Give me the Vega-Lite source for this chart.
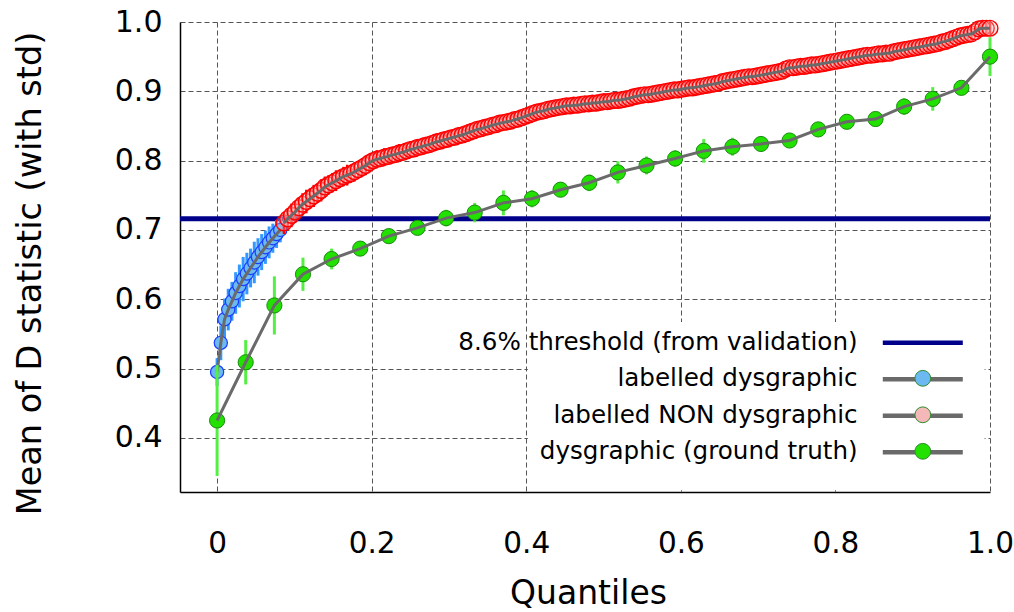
{
  "$schema": "https://vega.github.io/schema/vega-lite/v6.json",
  "width": 810,
  "height": 470,
  "autosize": {"type": "none"},
  "padding": {"left": 180, "top": 22, "right": 24, "bottom": 120},
  "background": "white",
  "config": {"view": {"stroke": null}, "font": "DejaVu Sans"},
  "datasets": {
    "blue": [
      {"q":0,"m":0.495,"e":0.02},{"q":0.0048,"m":0.537,"e":0.025},{"q":0.0096,"m":0.571,"e":0.03},{"q":0.0144,"m":0.585,"e":0.03},
      {"q":0.0192,"m":0.597,"e":0.028},{"q":0.024,"m":0.609,"e":0.03},{"q":0.0288,"m":0.619,"e":0.031},{"q":0.0337,"m":0.629,"e":0.032},
      {"q":0.0385,"m":0.637,"e":0.03},{"q":0.0433,"m":0.645,"e":0.028},{"q":0.0481,"m":0.653,"e":0.03},{"q":0.0529,"m":0.661,"e":0.027},
      {"q":0.0577,"m":0.668,"e":0.026},{"q":0.0625,"m":0.675,"e":0.024},{"q":0.0673,"m":0.682,"e":0.023},{"q":0.0721,"m":0.688,"e":0.021},
      {"q":0.0769,"m":0.694,"e":0.02},{"q":0.0817,"m":0.7,"e":0.018}
    ],
    "red": [
      {"q":0.0865,"m":0.71,"e":0.016},{"q":0.0913,"m":0.716,"e":0.015},{"q":0.0962,"m":0.721,"e":0.017},{"q":0.101,"m":0.726,"e":0.016},
      {"q":0.1058,"m":0.732,"e":0.015},{"q":0.1106,"m":0.737,"e":0.016},{"q":0.1154,"m":0.741,"e":0.017},{"q":0.1202,"m":0.745,"e":0.015},
      {"q":0.125,"m":0.749,"e":0.016},{"q":0.1298,"m":0.753,"e":0.014},{"q":0.1346,"m":0.757,"e":0.016},{"q":0.1394,"m":0.762,"e":0.015},
      {"q":0.1442,"m":0.765,"e":0.014},{"q":0.149,"m":0.768,"e":0.014},{"q":0.1538,"m":0.771,"e":0.015},{"q":0.1587,"m":0.774,"e":0.013},
      {"q":0.1635,"m":0.777,"e":0.014},{"q":0.1683,"m":0.779,"e":0.015},{"q":0.1731,"m":0.781,"e":0.013},{"q":0.1779,"m":0.784,"e":0.014},
      {"q":0.1827,"m":0.787,"e":0.012},{"q":0.1875,"m":0.79,"e":0.013},{"q":0.1923,"m":0.793,"e":0.014},{"q":0.1971,"m":0.797,"e":0.013},
      {"q":0.2019,"m":0.8,"e":0.012},{"q":0.2067,"m":0.802,"e":0.013},{"q":0.2115,"m":0.803,"e":0.012},{"q":0.2163,"m":0.805,"e":0.013},
      {"q":0.2212,"m":0.806,"e":0.012},{"q":0.226,"m":0.808,"e":0.011},{"q":0.2308,"m":0.809,"e":0.012},{"q":0.2356,"m":0.811,"e":0.013},
      {"q":0.2404,"m":0.812,"e":0.012},{"q":0.2452,"m":0.814,"e":0.011},{"q":0.25,"m":0.816,"e":0.012},{"q":0.2548,"m":0.817,"e":0.012},
      {"q":0.2596,"m":0.819,"e":0.011},{"q":0.2644,"m":0.82,"e":0.012},{"q":0.2692,"m":0.822,"e":0.011},{"q":0.274,"m":0.823,"e":0.012},
      {"q":0.2788,"m":0.825,"e":0.011},{"q":0.2837,"m":0.827,"e":0.012},{"q":0.2885,"m":0.828,"e":0.011},{"q":0.2933,"m":0.83,"e":0.011},
      {"q":0.2981,"m":0.831,"e":0.012},{"q":0.3029,"m":0.833,"e":0.011},{"q":0.3077,"m":0.834,"e":0.011},{"q":0.3125,"m":0.836,"e":0.012},
      {"q":0.3173,"m":0.837,"e":0.011},{"q":0.3221,"m":0.839,"e":0.011},{"q":0.3269,"m":0.841,"e":0.012},{"q":0.3317,"m":0.843,"e":0.011},
      {"q":0.3365,"m":0.845,"e":0.011},{"q":0.3413,"m":0.846,"e":0.012},{"q":0.3462,"m":0.848,"e":0.011},{"q":0.351,"m":0.849,"e":0.011},
      {"q":0.3558,"m":0.851,"e":0.01},{"q":0.3606,"m":0.852,"e":0.011},{"q":0.3654,"m":0.854,"e":0.011},{"q":0.3702,"m":0.855,"e":0.01},
      {"q":0.375,"m":0.856,"e":0.011},{"q":0.3798,"m":0.857,"e":0.011},{"q":0.3846,"m":0.859,"e":0.01},{"q":0.3894,"m":0.86,"e":0.011},
      {"q":0.3942,"m":0.862,"e":0.01},{"q":0.399,"m":0.864,"e":0.011},{"q":0.4038,"m":0.866,"e":0.011},{"q":0.4087,"m":0.868,"e":0.01},
      {"q":0.4135,"m":0.87,"e":0.011},{"q":0.4183,"m":0.871,"e":0.01},{"q":0.4231,"m":0.872,"e":0.01},{"q":0.4279,"m":0.874,"e":0.011},
      {"q":0.4327,"m":0.875,"e":0.01},{"q":0.4375,"m":0.876,"e":0.01},{"q":0.4423,"m":0.877,"e":0.011},{"q":0.4471,"m":0.878,"e":0.01},
      {"q":0.4519,"m":0.879,"e":0.01},{"q":0.4567,"m":0.879,"e":0.011},{"q":0.4615,"m":0.88,"e":0.01},{"q":0.4663,"m":0.88,"e":0.01},
      {"q":0.4712,"m":0.881,"e":0.01},{"q":0.476,"m":0.882,"e":0.011},{"q":0.4808,"m":0.882,"e":0.01},{"q":0.4856,"m":0.883,"e":0.01},
      {"q":0.4904,"m":0.883,"e":0.01},{"q":0.4952,"m":0.884,"e":0.011},{"q":0.5,"m":0.885,"e":0.01},{"q":0.5048,"m":0.885,"e":0.01},
      {"q":0.5096,"m":0.886,"e":0.01},{"q":0.5144,"m":0.887,"e":0.01},{"q":0.5192,"m":0.887,"e":0.011},{"q":0.524,"m":0.888,"e":0.01},
      {"q":0.5288,"m":0.889,"e":0.01},{"q":0.5337,"m":0.89,"e":0.01},{"q":0.5385,"m":0.892,"e":0.01},{"q":0.5433,"m":0.893,"e":0.011},
      {"q":0.5481,"m":0.894,"e":0.01},{"q":0.5529,"m":0.895,"e":0.01},{"q":0.5577,"m":0.895,"e":0.01},{"q":0.5625,"m":0.896,"e":0.01},
      {"q":0.5673,"m":0.897,"e":0.01},{"q":0.5721,"m":0.898,"e":0.01},{"q":0.5769,"m":0.899,"e":0.01},{"q":0.5817,"m":0.9,"e":0.01},
      {"q":0.5865,"m":0.901,"e":0.01},{"q":0.5913,"m":0.902,"e":0.01},{"q":0.5962,"m":0.902,"e":0.01},{"q":0.601,"m":0.903,"e":0.01},
      {"q":0.6058,"m":0.904,"e":0.01},{"q":0.6106,"m":0.905,"e":0.01},{"q":0.6154,"m":0.905,"e":0.01},{"q":0.6202,"m":0.906,"e":0.01},
      {"q":0.625,"m":0.907,"e":0.01},{"q":0.6298,"m":0.908,"e":0.01},{"q":0.6346,"m":0.909,"e":0.01},{"q":0.6394,"m":0.91,"e":0.01},
      {"q":0.6442,"m":0.911,"e":0.01},{"q":0.649,"m":0.912,"e":0.01},{"q":0.6538,"m":0.914,"e":0.01},{"q":0.6587,"m":0.915,"e":0.01},
      {"q":0.6635,"m":0.916,"e":0.01},{"q":0.6683,"m":0.917,"e":0.01},{"q":0.6731,"m":0.918,"e":0.01},{"q":0.6779,"m":0.919,"e":0.01},
      {"q":0.6827,"m":0.92,"e":0.009},{"q":0.6875,"m":0.921,"e":0.01},{"q":0.6923,"m":0.921,"e":0.009},{"q":0.6971,"m":0.922,"e":0.01},
      {"q":0.7019,"m":0.923,"e":0.009},{"q":0.7067,"m":0.924,"e":0.009},{"q":0.7115,"m":0.925,"e":0.01},{"q":0.7163,"m":0.926,"e":0.009},
      {"q":0.7212,"m":0.927,"e":0.009},{"q":0.726,"m":0.928,"e":0.009},{"q":0.7308,"m":0.929,"e":0.01},{"q":0.7356,"m":0.932,"e":0.009},
      {"q":0.7404,"m":0.934,"e":0.009},{"q":0.7452,"m":0.934,"e":0.009},{"q":0.75,"m":0.935,"e":0.009},{"q":0.7548,"m":0.936,"e":0.009},
      {"q":0.7596,"m":0.936,"e":0.009},{"q":0.7644,"m":0.937,"e":0.009},{"q":0.7692,"m":0.938,"e":0.009},{"q":0.774,"m":0.938,"e":0.009},
      {"q":0.7788,"m":0.939,"e":0.009},{"q":0.7837,"m":0.94,"e":0.009},{"q":0.7885,"m":0.941,"e":0.009},{"q":0.7933,"m":0.942,"e":0.009},
      {"q":0.7981,"m":0.943,"e":0.009},{"q":0.8029,"m":0.944,"e":0.009},{"q":0.8077,"m":0.945,"e":0.009},{"q":0.8125,"m":0.946,"e":0.009},
      {"q":0.8173,"m":0.947,"e":0.009},{"q":0.8221,"m":0.948,"e":0.009},{"q":0.8269,"m":0.949,"e":0.009},{"q":0.8317,"m":0.95,"e":0.009},
      {"q":0.8365,"m":0.951,"e":0.009},{"q":0.8413,"m":0.952,"e":0.009},{"q":0.8462,"m":0.952,"e":0.009},{"q":0.851,"m":0.953,"e":0.009},
      {"q":0.8558,"m":0.954,"e":0.009},{"q":0.8606,"m":0.954,"e":0.009},{"q":0.8654,"m":0.955,"e":0.009},{"q":0.8702,"m":0.955,"e":0.009},
      {"q":0.875,"m":0.957,"e":0.009},{"q":0.8798,"m":0.958,"e":0.009},{"q":0.8846,"m":0.959,"e":0.009},{"q":0.8894,"m":0.96,"e":0.009},
      {"q":0.8942,"m":0.961,"e":0.009},{"q":0.899,"m":0.962,"e":0.009},{"q":0.9038,"m":0.963,"e":0.009},{"q":0.9087,"m":0.964,"e":0.009},
      {"q":0.9135,"m":0.965,"e":0.009},{"q":0.9183,"m":0.966,"e":0.009},{"q":0.9231,"m":0.967,"e":0.009},{"q":0.9279,"m":0.968,"e":0.009},
      {"q":0.9327,"m":0.969,"e":0.009},{"q":0.9375,"m":0.971,"e":0.009},{"q":0.9423,"m":0.972,"e":0.009},{"q":0.9471,"m":0.974,"e":0.009},
      {"q":0.9519,"m":0.976,"e":0.009},{"q":0.9567,"m":0.978,"e":0.009},{"q":0.9615,"m":0.98,"e":0.009},{"q":0.9663,"m":0.981,"e":0.009},
      {"q":0.9712,"m":0.982,"e":0.009},{"q":0.976,"m":0.983,"e":0.009},{"q":0.9808,"m":0.986,"e":0.008},{"q":0.9856,"m":0.99,"e":0.008},
      {"q":0.9904,"m":0.991,"e":0.008},{"q":0.9952,"m":0.991,"e":0.008},{"q":1,"m":0.991,"e":0.008}
    ],
    "green": [
      {"q":0,"m":0.425,"e":0.08},{"q":0.037,"m":0.509,"e":0.032},{"q":0.0741,"m":0.591,"e":0.042},{"q":0.1111,"m":0.636,"e":0.024},
      {"q":0.1481,"m":0.658,"e":0.015},{"q":0.1852,"m":0.673,"e":0.01},{"q":0.2222,"m":0.691,"e":0.008},{"q":0.2593,"m":0.703,"e":0.008},
      {"q":0.2963,"m":0.717,"e":0.012},{"q":0.3333,"m":0.725,"e":0.014},{"q":0.3704,"m":0.739,"e":0.018},{"q":0.4074,"m":0.745,"e":0.0125},
      {"q":0.4444,"m":0.758,"e":0.01},{"q":0.4815,"m":0.768,"e":0.012},{"q":0.5185,"m":0.783,"e":0.016},{"q":0.5556,"m":0.793,"e":0.013},
      {"q":0.5926,"m":0.803,"e":0.012},{"q":0.6296,"m":0.814,"e":0.017},{"q":0.6667,"m":0.82,"e":0.013},{"q":0.7037,"m":0.824,"e":0.01},
      {"q":0.7407,"m":0.829,"e":0.01},{"q":0.7778,"m":0.845,"e":0.01},{"q":0.8148,"m":0.856,"e":0.009},{"q":0.8519,"m":0.86,"e":0.008},
      {"q":0.8889,"m":0.878,"e":0.012},{"q":0.9259,"m":0.889,"e":0.017},{"q":0.963,"m":0.905,"e":0.01},{"q":1,"m":0.95,"e":0.028}
    ]
  },
  "layer": [
    {
      "data": {"values": [{}]},
      "mark": {"type": "rect", "fill": "white"},
      "encoding": {
        "x": {"datum": 0.402, "type": "quantitative", "title": "Quantiles",
          "scale": {"domain": [-0.048, 1.0], "nice": false, "zero": false},
          "axis": {"title": "Quantiles", "values": [0, 0.2, 0.4, 0.6, 0.8, 1.0],
            "labelExpr": "datum.value == 0 ? '0' : format(datum.value, '.1f')",
            "grid": true, "gridDash": [5, 3], "gridColor": "#555555", "gridWidth": 1, "gridOpacity": 1,
            "domainColor": "black", "domainWidth": 1.5, "ticks": false, "tickSize": 0,
            "labelFont": "DejaVu Sans", "labelFontSize": 29.5, "labelColor": "black", "labelPadding": 51,
            "labelBaseline": "middle", "labelFlush": false, "labelOverlap": false,
            "titleFont": "DejaVu Sans", "titleFontSize": 33, "titleFontWeight": "normal", "titleColor": "black",
            "titleX": 408, "titleY": 101, "titleBaseline": "middle", "titleAlign": "center"}},
        "x2": {"datum": 0.993},
        "y": {"datum": 0.3245, "type": "quantitative", "title": "Mean of D statistic (with std)",
          "scale": {"domain": [0.3218, 1.0], "nice": false, "zero": false},
          "axis": {"title": "Mean of D statistic (with std)", "values": [0.4, 0.5, 0.6, 0.7, 0.8, 0.9, 1.0],
            "format": ".1f",
            "grid": true, "gridDash": [5, 3], "gridColor": "#555555", "gridWidth": 1, "gridOpacity": 1,
            "domainColor": "black", "domainWidth": 1.5, "ticks": false, "tickSize": 0,
            "labelFont": "DejaVu Sans", "labelFontSize": 30, "labelColor": "black", "labelPadding": 18,
            "labelFlush": false, "labelOverlap": false,
            "titleFont": "DejaVu Sans", "titleFontSize": 33.5, "titleFontWeight": "normal", "titleColor": "black",
            "titleX": -150, "titleY": 251, "titleBaseline": "middle", "titleAlign": "center", "titleAngle": -90}},
        "y2": {"datum": 0.567}
      }
    },
    {
      "data": {"values": [{}]},
      "mark": {"type": "rule", "strokeWidth": 5},
      "encoding": {
        "y": {"datum": 0.716, "type": "quantitative", "title": "Mean of D statistic (with std)"},
        "stroke": {"datum": "8.6% threshold (from validation)", "type": "nominal",
          "scale": {"domain": ["8.6% threshold (from validation)", "labelled dysgraphic", "labelled NON dysgraphic", "dysgraphic (ground truth)"],
                    "range": ["#00008b", "#6a6a6a", "#6a6a6a", "#6a6a6a"]},
          "legend": {"title": null, "orient": "none", "legendX": 730.5, "legendY": 308.5, "padding": 0,
            "symbolType": "M-8,0H8", "symbolSize": 100, "symbolStrokeWidth": 4.5,
            "labelFont": "DejaVu Sans", "labelFontSize": 24.6, "labelColor": "black", "labelAlign": "right",
            "labelBaseline": "middle", "labelOffset": -77.5, "labelLimit": 1000, "rowPadding": 11.5}}
      }
    },
    {
      "data": {"name": "blue"},
      "mark": {"type": "errorbar", "color": "#3399ff", "thickness": 3},
      "encoding": {"x": {"field": "q", "type": "quantitative", "title": "Quantiles"}, "y": {"field": "m", "type": "quantitative", "title": "Mean of D statistic (with std)"}, "yError": {"field": "e"}}
    },
    {
      "data": {"name": "blue"},
      "mark": {"type": "point", "shape": "circle", "filled": true, "size": 175, "stroke": "#1a3cff", "strokeWidth": 1.2, "opacity": 1},
      "encoding": {"x": {"field": "q", "type": "quantitative", "title": "Quantiles"}, "y": {"field": "m", "type": "quantitative", "title": "Mean of D statistic (with std)"},
        "fill": {"datum": "labelled dysgraphic", "type": "nominal",
          "scale": {"domain": ["labelled dysgraphic", "labelled NON dysgraphic", "dysgraphic (ground truth)"],
                    "range": ["#6cb8f0", "#f4b8b8", "#22e000"]},
          "legend": {"title": null, "orient": "none", "legendX": 730.5, "legendY": 344, "padding": 0,
            "symbolType": "circle", "symbolSize": 250, "symbolStrokeColor": "#2e8b2e", "symbolStrokeWidth": 1, "symbolOpacity": 1,
            "labelFont": "DejaVu Sans", "labelFontSize": 24.6, "labelOpacity": 0, "labelAlign": "right",
            "labelBaseline": "middle", "labelOffset": -77.5, "labelLimit": 1000, "rowPadding": 11.5,
            "encode": {"symbols": {"update": {"stroke": {"value": "#2e8b2e"}, "strokeWidth": {"value": 1}}}}}}
      }
    },
    {
      "data": {"name": "blue"},
      "mark": {"type": "line", "strokeWidth": 3},
      "encoding": {"x": {"field": "q", "type": "quantitative", "title": "Quantiles"}, "y": {"field": "m", "type": "quantitative", "title": "Mean of D statistic (with std)"},
        "stroke": {"datum": "labelled dysgraphic", "type": "nominal"}}
    },
    {
      "data": {"name": "red"},
      "mark": {"type": "errorbar", "color": "#ff0000", "thickness": 2.5},
      "encoding": {"x": {"field": "q", "type": "quantitative", "title": "Quantiles"}, "y": {"field": "m", "type": "quantitative", "title": "Mean of D statistic (with std)"}, "yError": {"field": "e"}}
    },
    {
      "data": {"name": "red"},
      "mark": {"type": "point", "shape": "circle", "filled": true, "size": 250, "stroke": "#ff0000", "strokeWidth": 1.4, "opacity": 1, "fillOpacity": 0.3},
      "encoding": {"x": {"field": "q", "type": "quantitative", "title": "Quantiles"}, "y": {"field": "m", "type": "quantitative", "title": "Mean of D statistic (with std)"},
        "fill": {"datum": "labelled NON dysgraphic", "type": "nominal"}}
    },
    {
      "data": {"name": "red"},
      "mark": {"type": "line", "strokeWidth": 3},
      "encoding": {"x": {"field": "q", "type": "quantitative", "title": "Quantiles"}, "y": {"field": "m", "type": "quantitative", "title": "Mean of D statistic (with std)"},
        "stroke": {"datum": "labelled NON dysgraphic", "type": "nominal"}}
    },
    {
      "data": {"name": "green"},
      "mark": {"type": "errorbar", "color": "#55ee44", "thickness": 3},
      "encoding": {"x": {"field": "q", "type": "quantitative", "title": "Quantiles"}, "y": {"field": "m", "type": "quantitative", "title": "Mean of D statistic (with std)"}, "yError": {"field": "e"}}
    },
    {
      "data": {"name": "green"},
      "mark": {"type": "point", "shape": "circle", "filled": true, "size": 230, "stroke": "#1a8a10", "strokeWidth": 1, "opacity": 1},
      "encoding": {"x": {"field": "q", "type": "quantitative", "title": "Quantiles"}, "y": {"field": "m", "type": "quantitative", "title": "Mean of D statistic (with std)"},
        "fill": {"datum": "dysgraphic (ground truth)", "type": "nominal"}}
    },
    {
      "data": {"name": "green"},
      "mark": {"type": "line", "strokeWidth": 3},
      "encoding": {"x": {"field": "q", "type": "quantitative", "title": "Quantiles"}, "y": {"field": "m", "type": "quantitative", "title": "Mean of D statistic (with std)"},
        "stroke": {"datum": "dysgraphic (ground truth)", "type": "nominal"}}
    }
  ]
}
